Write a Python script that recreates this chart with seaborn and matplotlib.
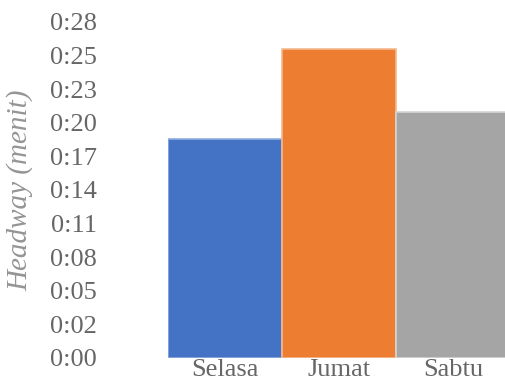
import matplotlib
matplotlib.use("Agg")
import matplotlib.pyplot as plt
import seaborn as sns
import pandas as pd

# Data
days = ["Selasa", "Jumat", "Sabtu"]
headway_min = [18.8, 26.5, 21.1]
bar_colors = ["#4472C4", "#ED7D31", "#A5A5A5"]
edge_colors = ["#8fadde", "#f5b98e", "#d4d4d4"]
tick_values = [0.0, 2.88, 5.76, 8.64, 11.52, 14.4, 17.28, 20.16, 23.04, 25.92, 28.8]
tick_labels = ["0:00", "0:02", "0:05", "0:08", "0:11", "0:14", "0:17", "0:20", "0:23", "0:25", "0:28"]

sns.set_style("white")
plt.rcParams["font.family"] = ["Liberation Serif", "DejaVu Serif"]

df = pd.DataFrame({"day": days, "headway": headway_min})

fig = plt.figure(figsize=(5.05, 3.83), dpi=100)
W, H = 505, 383
left, right, bottom, top = 168, 505, 358, 22
ax = fig.add_axes([left / W, (H - bottom) / H, (right - left) / W, (bottom - top) / H])

sns.barplot(data=df, x="day", y="headway", hue="day", palette=bar_colors,
            width=1.0, legend=False, ax=ax, saturation=1)
for patch, ec in zip(ax.patches, edge_colors):
    patch.set_edgecolor(ec)
    patch.set_linewidth(1.2)

ax.set_xlim(-0.5, 2.456)
ax.set_ylim(0, 28.8)
ax.set_yticks(tick_values)
ax.set_yticklabels(tick_labels)
for s in ax.spines.values():
    s.set_visible(False)
txt_color = "#666666"
ax.tick_params(axis="y", length=0, pad=51, labelsize=19, labelcolor=txt_color)
ax.tick_params(axis="x", length=0, pad=1, labelsize=19, labelcolor=txt_color)
ax.set_xlabel("")
ax.set_ylabel("Headway (menit)", fontsize=21, fontstyle="italic", color="#959595")
ax.yaxis.set_label_coords(-0.40, 0.5)

fig.savefig("out.png", dpi=100)
